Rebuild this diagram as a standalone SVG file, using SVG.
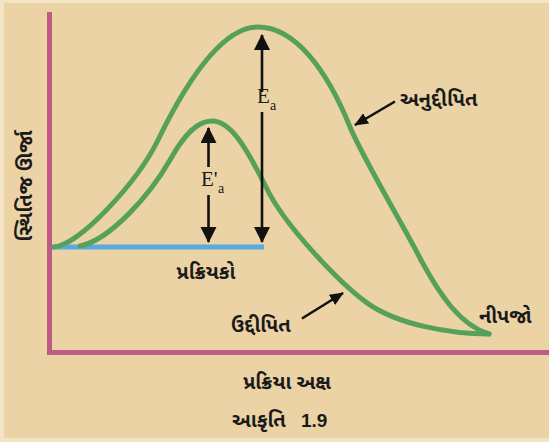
<svg xmlns="http://www.w3.org/2000/svg" width="549" height="442" viewBox="0 0 549 442">
<defs>
<marker id="ah" markerWidth="16" markerHeight="17" refX="15" refY="8" orient="auto" markerUnits="userSpaceOnUse">
<path d="M0,0 L16,8 L0,16 Z" fill="#111"/>
</marker>
<marker id="ahs" markerWidth="14" markerHeight="12" refX="13" refY="6" orient="auto" markerUnits="userSpaceOnUse">
<path d="M0,0 L14,6 L0,12 Z" fill="#111"/>
</marker>
</defs>
<style>
.axis{stroke:#BE5C87;stroke-width:5;fill:none}
.curve{stroke:#57A05A;stroke-width:5;fill:none;stroke-linecap:round;stroke-linejoin:round}
.base{stroke:#58AAE0;stroke-width:5;fill:none}
.arr{stroke:#111;stroke-width:2.6;fill:none;marker-end:url(#ah)}
.ptr{stroke:#111;stroke-width:2.6;fill:none;marker-end:url(#ahs)}
.guj{font-family:"Noto Sans Gujarati","Lohit Gujarati","Noto Serif Gujarati","Shruti",sans-serif;font-size:20px;fill:#1a1a1a;font-weight:bold}
.sym{font-family:"Liberation Serif",serif;fill:#1a1a1a}
</style>
<rect x="0" y="0" width="549" height="442" fill="#F3E4C6"/>
<rect x="4" y="3" width="545" height="435" fill="#ECD3A6"/>
<g id="axes">
<line class="axis" x1="49.5" y1="12" x2="49.5" y2="355"/>
<line class="axis" x1="47" y1="352.5" x2="549" y2="352.5"/>
</g>
<g id="reactants">
<line class="base" x1="52" y1="247" x2="264" y2="247"/>
<text class="guj" x="206" y="279" text-anchor="middle">પ્રક્રિયકો</text>
</g>
<g id="curves">
<path id="uncatalysed" class="curve" d="M54,247 C80,245 138,181 158,140 C180,95 218,27 258,27 C295,27 327,70 350,127 C364,160 403,225 421,260 C440,295 460,325 489,334"/>
<path id="catalysed" class="curve" d="M80,246 C110,240 150,195 170,160 C185,133 198,121 212,121 C230,121 245,145 266,187 C284,225 340,283.6 368,303.6 C398,324.6 450,334 489,334"/>
</g>
<g id="connectors">
<line class="arr" x1="262" y1="92" x2="262" y2="35"/>
<line class="arr" x1="262" y1="112" x2="262" y2="242"/>
<line class="arr" x1="208.5" y1="167" x2="208.5" y2="128"/>
<line class="arr" x1="208.5" y1="195" x2="208.5" y2="242"/>
<line class="ptr" x1="395" y1="101.5" x2="355" y2="125"/>
<line class="ptr" x1="302" y1="318.5" x2="343" y2="293"/>
</g>
<g id="label-Ea">
<text class="sym" x="257" y="103" font-size="21">E</text>
<text class="sym" x="270" y="110" font-size="14">a</text>
</g>
<g id="label-Ea-prime">
<text class="sym" x="201" y="186" font-size="21">E'</text>
<text class="sym" x="218" y="193" font-size="14">a</text>
</g>
<g id="label-uncatalysed">
<text class="guj" x="400" y="106" font-size="21">અનુદ્દીપિત</text>
</g>
<g id="label-catalysed">
<text class="guj" x="231" y="332">ઉદ્દીપિત</text>
</g>
<g id="label-products">
<text class="guj" x="479" y="323">નીપજો</text>
</g>
<g id="label-yaxis">
<text class="guj" transform="translate(32,186) rotate(-90)" text-anchor="middle">સ્થિતિજ ઊર્જા</text>
</g>
<g id="label-xaxis">
<text class="guj" x="287" y="389" text-anchor="middle">પ્રક્રિયા  અક્ષ</text>
</g>
<g id="caption">
<text class="guj" x="232" y="427" font-size="24">આકૃતિ</text>
<text x="301" y="427" font-family="Liberation Sans, sans-serif" font-weight="bold" font-size="19" fill="#1a1a1a">1.9</text>
</g>
</svg>
